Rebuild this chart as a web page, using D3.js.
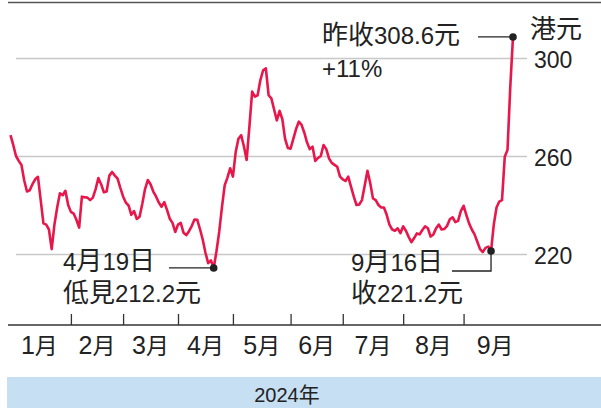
<!DOCTYPE html>
<html>
<head>
<meta charset="utf-8">
<script src="https://cdn.jsdelivr.net/npm/d3@7"></script>
<style>
    html, body { margin: 0; padding: 0; background: #fff; }
    #chart-area { width: 601px; height: 408px; }
    text { font-family: "Liberation Sans", "Noto Sans CJK TC", sans-serif; fill: #222; }
</style>
</head>
<body>
<div id="chart-area"></div>
<script>
// daily closes (HK$), one array per month, trading days only
const jan = [268.5, 264.5, 260, 258, 256.3, 250, 245.5, 246, 248.5, 250.5, 251.5, 242, 232.5, 232, 230, 222, 232, 239, 244.8, 244, 245.8, 240];
const feb = [237.2, 236.5, 234, 230.8, 243.4, 243.2, 243, 242, 243, 246.5, 251, 248.5, 245.2, 245.5, 252, 253.5, 252, 250.8, 247];
const mar = [243.5, 241, 239.8, 236, 237.5, 234.3, 235.2, 240.5, 246.5, 250.2, 248.5, 245.5, 243.5, 241, 239.3, 241.2, 238, 234.4, 232.7, 229];
const apr = [232, 232.7, 228.7, 227.7, 229.3, 231.4, 234.1, 234, 230.2, 225.9, 220.5, 216.3, 217.4, 214.3, 221, 229, 239, 248, 251.2, 255];
const may = [251.6, 261.5, 267, 268.5, 264, 258.4, 272, 286.3, 284.2, 284.8, 291, 295, 295.8, 284.8, 283.5, 279, 274.5, 278.4, 275, 267, 263.3];
const jun = [263, 267, 271, 274, 272.7, 269.5, 265.5, 262.8, 263.8, 258, 259.2, 260, 264.5, 262.8, 259, 257.2, 256.4, 255.6, 251.6];
const jul = [250.5, 249.8, 251.6, 247.5, 243.5, 240, 240.2, 242, 248, 254, 249, 242.7, 242, 240, 239, 239, 236, 232, 230, 229.5, 230.5, 228.5];
const aug = [231.3, 229.5, 227, 224.8, 226.5, 228.4, 228, 229.8, 231.3, 230.5, 227.1, 228, 230.5, 232, 230, 230.2, 231.5, 234.2, 235, 233, 233.5, 237.5];
const sep = [239.7, 236, 232.5, 230, 228, 225, 222, 220.8, 222.5, 223, 221.2, 232, 239, 241.4, 242, 259.7, 262.5, 288, 308.6];

const months = [jan, feb, mar, apr, may, jun, jul, aug, sep];
const monthLabels = ['1月', '2月', '3月', '4月', '5月', '6月', '7月', '8月', '9月'];
const yTicks = [220, 260, 300];
const yUnit = '港元';
const yearLabel = '2024年';

// annotation texts
const lowNote = ['4月19日', '低見212.2元'];
const sepNote = ['9月16日', '收221.2元'];
const sepNoteIndex = 175;
const lastNote = ['昨收308.6元', '+11%'];

;(function () {
    'use strict';

    const WIDTH = 601;
    const HEIGHT = 408;
    const AXIS_Y = 325;
    const CJK = /[\u3400-\u9fff]/;

    let svg;
    let xScale;
    let yScale;

    // split a string into latin / CJK runs so the two can get their own sizes
    function mixedText(sel, str, latinSize, cjkSize) {
        str.match(/[\u3400-\u9fff]+|[^\u3400-\u9fff]+/g).forEach(run => {
            sel.append('tspan')
                .attr('font-size', CJK.test(run) ? cjkSize : latinSize)
                .text(run);
        });
        return sel;
    }

    function init(selector) {
        const data = months.flat();
        const monthStarts = [];
        let n = 0;
        months.forEach(m => { monthStarts.push(n); n += m.length; });

        svg = d3.select(selector).append('svg')
            .attr('width', WIDTH)
            .attr('height', HEIGHT);

        xScale = d3.scaleLinear()
            .domain([0, data.length - 1])
            .range([10.5, 513]);

        yScale = d3.scaleLinear()
            .domain([220, 300])
            .range([254, 58]);

        // top rule
        svg.append('line')
            .attr('x1', 8).attr('x2', WIDTH)
            .attr('y1', 2.5).attr('y2', 2.5)
            .attr('stroke', '#555')
            .attr('stroke-width', 1.6);

        // y grid + labels on the right
        const yAxisCall = d3.axisRight(yScale)
            .tickValues(yTicks)
            .tickSize(-(527 - 16))
            .tickPadding(7);
        const yAxisGroup = svg.append('g')
            .attr('class', 'y-axis-group')
            .attr('transform', 'translate(527, 0)')
            .call(yAxisCall);
        yAxisGroup.select('.domain').remove();
        yAxisGroup.selectAll('line')
            .attr('stroke', '#c8c8c8')
            .attr('stroke-width', 1.5);
        yAxisGroup.selectAll('text')
            .attr('font-size', 23)
            .attr('fill', '#222')
            .attr('dy', '0.42em');

        mixedText(svg.append('text').attr('x', 530).attr('y', 38), yUnit, 24, 26);

        // x axis: ticks at first trading day of each month, pointing up
        svg.append('line')
            .attr('x1', 8).attr('x2', WIDTH)
            .attr('y1', AXIS_Y).attr('y2', AXIS_Y)
            .attr('stroke', '#333')
            .attr('stroke-width', 1.6);

        const xAxisCall = d3.axisTop(xScale)
            .tickValues(monthStarts.slice(1))
            .tickSize(11)
            .tickFormat('');
        const xAxisGroup = svg.append('g')
            .attr('class', 'x-axis-group')
            .attr('transform', `translate(0, ${AXIS_Y})`)
            .call(xAxisCall);
        xAxisGroup.select('.domain').remove();
        xAxisGroup.selectAll('line')
            .attr('stroke', '#333')
            .attr('stroke-width', 1.3);

        const bounds = [-1].concat(monthStarts.slice(1), [188]);
        monthLabels.forEach((label, i) => {
            const t = svg.append('text')
                .attr('x', xScale((bounds[i] + bounds[i + 1]) / 2))
                .attr('y', 354)
                .attr('text-anchor', 'middle');
            mixedText(t, label, 25, 23);
        });

        // year band
        svg.append('rect')
            .attr('x', 7)
            .attr('y', 377)
            .attr('width', WIDTH - 7)
            .attr('height', HEIGHT - 377)
            .attr('fill', '#c6dff2');
        mixedText(svg.append('text')
            .attr('x', 287)
            .attr('y', 402)
            .attr('text-anchor', 'middle'), yearLabel, 20, 21);

        // price line
        const line = d3.line()
            .x((d, i) => xScale(i))
            .y(d => yScale(d));
        svg.append('path')
            .datum(data)
            .attr('fill', 'none')
            .attr('stroke', '#e8174b')
            .attr('stroke-width', 2.6)
            .attr('stroke-linejoin', 'round')
            .attr('d', line);

        // annotations
        const notes = svg.append('g').attr('class', 'notes');
        const dot = (i) => notes.append('circle')
            .attr('cx', xScale(i))
            .attr('cy', yScale(data[i]))
            .attr('r', 3.8)
            .attr('fill', '#222');
        const note = (x, y, str) => mixedText(notes.append('text').attr('x', x).attr('y', y), str, 24, 26);

        const last = data.length - 1;
        notes.append('line')
            .attr('x1', 478).attr('x2', xScale(last))
            .attr('y1', yScale(data[last])).attr('y2', yScale(data[last]))
            .attr('stroke', '#222').attr('stroke-width', 1.3);
        dot(last);
        note(322, 44, lastNote[0]);
        note(322, 77, lastNote[1]);

        const lowIdx = d3.minIndex(data);
        notes.append('line')
            .attr('x1', 169).attr('x2', xScale(lowIdx))
            .attr('y1', yScale(data[lowIdx])).attr('y2', yScale(data[lowIdx]))
            .attr('stroke', '#222').attr('stroke-width', 1.3);
        dot(lowIdx);
        note(63, 270, lowNote[0]);
        note(63, 302, lowNote[1]);

        const si = sepNoteIndex;
        notes.append('path')
            .attr('d', `M452,271H${xScale(si)}V${yScale(data[si])}`)
            .attr('fill', 'none')
            .attr('stroke', '#222').attr('stroke-width', 1.3);
        dot(si);
        note(351, 271, sepNote[0]);
        note(351, 302, sepNote[1]);
    }

    init('#chart-area');
})();
</script>
</body>
</html>
